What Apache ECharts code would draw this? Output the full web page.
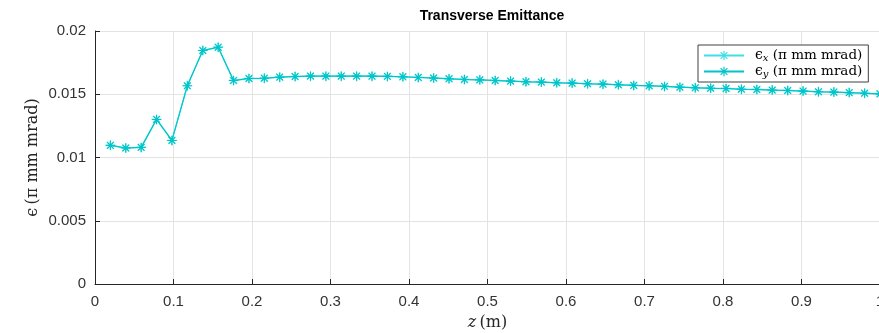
<!DOCTYPE html>
<html>
<head>
<meta charset="utf-8">
<script src="https://cdn.jsdelivr.net/npm/echarts@6/dist/echarts.min.js"></script>
<style>
  html, body { margin: 0; padding: 0; background: #ffffff; }
  #chart { width: 879px; height: 333px; }
</style>
</head>
<body>
<div id="chart"></div>
<script>
// Axial positions along the beamline (m)
const zPos = [
  0.0196, 0.0392, 0.0588, 0.0784, 0.0980, 0.1176, 0.1373, 0.1569, 0.1765, 0.1961,
  0.2157, 0.2353, 0.2549, 0.2745, 0.2941, 0.3137, 0.3333, 0.3529, 0.3725, 0.3922,
  0.4118, 0.4314, 0.4510, 0.4706, 0.4902, 0.5098, 0.5294, 0.5490, 0.5686, 0.5882,
  0.6078, 0.6275, 0.6471, 0.6667, 0.6863, 0.7059, 0.7255, 0.7451, 0.7647, 0.7843,
  0.8039, 0.8235, 0.8431, 0.8627, 0.8824, 0.9020, 0.9216, 0.9412, 0.9608, 0.9804,
  1.0000
];

// Horizontal emittance (pi mm mrad)
const epsX = [
  0.01096, 0.01075, 0.01080, 0.01301, 0.01135, 0.01567, 0.01846, 0.01872, 0.01609, 0.01625,
  0.01627, 0.01635, 0.01640, 0.01643, 0.01643, 0.01643, 0.01643, 0.01643, 0.01641, 0.01638,
  0.01633, 0.01628, 0.01622, 0.01617, 0.01614, 0.01609, 0.01604, 0.01599, 0.01596, 0.01591,
  0.01588, 0.01583, 0.01580, 0.01575, 0.01570, 0.01567, 0.01562, 0.01556, 0.01551, 0.01548,
  0.01546, 0.01540, 0.01538, 0.01533, 0.01530, 0.01525, 0.01520, 0.01517, 0.01513, 0.01508,
  0.01503
];

// Vertical emittance (pi mm mrad)
const epsY = [
  0.01096, 0.01075, 0.01080, 0.01301, 0.01135, 0.01567, 0.01846, 0.01872, 0.01609, 0.01625,
  0.01627, 0.01635, 0.01640, 0.01643, 0.01643, 0.01643, 0.01643, 0.01643, 0.01641, 0.01638,
  0.01633, 0.01628, 0.01622, 0.01617, 0.01614, 0.01609, 0.01604, 0.01599, 0.01596, 0.01591,
  0.01588, 0.01583, 0.01580, 0.01575, 0.01570, 0.01567, 0.01562, 0.01556, 0.01551, 0.01548,
  0.01546, 0.01540, 0.01538, 0.01533, 0.01530, 0.01525, 0.01520, 0.01517, 0.01513, 0.01508,
  0.01503
];

const xTickLabels = ['0', '0.1', '0.2', '0.3', '0.4', '0.5', '0.6', '0.7', '0.8', '0.9', '1'];
const yTickLabels = ['0', '0.005', '0.01', '0.015', '0.02'];

const seriesNames = ['epsX', 'epsY'];

// Eight-armed asterisk marker
const asterisk = 'path://' +
  'M44,0 L56,0 L56,100 L44,100 Z ' +
  'M0,44 L100,44 L100,56 L0,56 Z ' +
  'M10.5,18.9 L18.9,10.5 L89.5,81.1 L81.1,89.5 Z ' +
  'M81.1,10.5 L89.5,18.9 L18.9,89.5 L10.5,81.1 Z';

const axisColor = '#262626';
const gridColor = '#e3e3e3';
const sansFont = '"Liberation Sans", Arial, Helvetica, sans-serif';
const serifFont = '"DejaVu Serif", "Liberation Serif", serif';

const chart = echarts.init(document.getElementById('chart'), null, { renderer: 'canvas' });

function toPairs(xs, ys) {
  return xs.map((x, i) => [x, ys[i]]);
}

const legendRich = {
  g: { width: 6, lineHeight: 15 },
  e: { fontFamily: serifFont, fontSize: 14, color: '#000', lineHeight: 15 },
  s: { fontFamily: serifFont, fontSize: 10, fontStyle: 'italic', color: '#000', lineHeight: 15, verticalAlign: 'bottom', padding: [5, 0, 0, 0] },
  t: { fontFamily: serifFont, fontSize: 13.5, color: '#000', lineHeight: 15 }
};

chart.setOption({
  animation: false,
  backgroundColor: '#ffffff',
  title: {
    text: 'Transverse Emittance',
    left: 487,
    top: 4,
    textAlign: 'center',
    textStyle: { fontFamily: sansFont, fontWeight: 'bold', fontSize: 14, color: '#000' }
  },
  legend: {
    orient: 'vertical',
    left: 698,
    top: 45,
    padding: [3, 6, 3, 5],
    itemWidth: 40,
    itemHeight: 12,
    itemGap: 1,
    backgroundColor: '#ffffff',
    borderColor: '#404040',
    borderWidth: 1,
    borderRadius: 0,
    data: seriesNames,
    formatter: function (name) {
      const sub = name === 'epsX' ? 'x' : 'y';
      return '{g|}{e|\u03F5}{s|' + sub + '}{t| (\u03C0 mm mrad)}';
    },
    textStyle: { rich: legendRich }
  },
  grid: {
    left: 95,
    top: 31,
    width: 785,
    height: 253,
    containLabel: false,
    outerBoundsMode: 'none'
  },
  xAxis: {
    type: 'value',
    min: 0,
    max: 1,
    interval: 0.1,
    name: '{i|z} {t|(m)}',
    nameLocation: 'middle',
    nameGap: 31,
    nameTextStyle: {
      rich: {
        i: { fontFamily: serifFont, fontStyle: 'italic', fontSize: 16, color: '#262626' },
        t: { fontFamily: serifFont, fontSize: 16, color: '#262626' }
      }
    },
    axisLine: { show: true, lineStyle: { color: axisColor, width: 1 } },
    axisTick: { show: true, inside: true, length: 5, lineStyle: { color: axisColor } },
    axisLabel: {
      margin: 10,
      fontFamily: sansFont,
      fontSize: 15,
      color: '#333',
      formatter: function (v) { return xTickLabels[Math.round(v * 10)]; }
    },
    splitLine: { show: true, lineStyle: { color: gridColor, width: 1 } }
  },
  yAxis: {
    type: 'value',
    min: 0,
    max: 0.02,
    interval: 0.005,
    name: '{e|\u03F5} {t|(\u03C0 mm mrad)}',
    nameLocation: 'middle',
    nameRotate: 90,
    nameGap: 54,
    nameMoveOverlap: false,
    nameTextStyle: {
      rich: {
        e: { fontFamily: serifFont, fontSize: 16, color: '#262626' },
        t: { fontFamily: serifFont, fontSize: 16, color: '#262626' }
      }
    },
    axisLine: { show: true, lineStyle: { color: axisColor, width: 1 } },
    axisTick: { show: true, inside: true, length: 5, lineStyle: { color: axisColor } },
    axisLabel: {
      margin: 9,
      fontFamily: sansFont,
      fontSize: 15,
      color: '#333',
      formatter: function (v) { return yTickLabels[Math.round(v / 0.005)]; }
    },
    splitLine: { show: true, lineStyle: { color: gridColor, width: 1 } }
  },
  series: [
    {
      name: 'epsX',
      type: 'line',
      data: toPairs(zPos, epsX),
      symbol: asterisk,
      symbolSize: 10,
      showSymbol: true,
      color: '#3fe0e3',
      lineStyle: { width: 1.4, color: '#3fe0e3' },
      itemStyle: { color: '#3fe0e3' },
      z: 2
    },
    {
      name: 'epsY',
      type: 'line',
      data: toPairs(zPos, epsY),
      symbol: asterisk,
      symbolSize: 9,
      showSymbol: true,
      color: '#00c4c8',
      lineStyle: { width: 1.1, color: '#00c4c8' },
      itemStyle: { color: '#00c4c8' },
      z: 3
    }
  ]
});
</script>
</body>
</html>
